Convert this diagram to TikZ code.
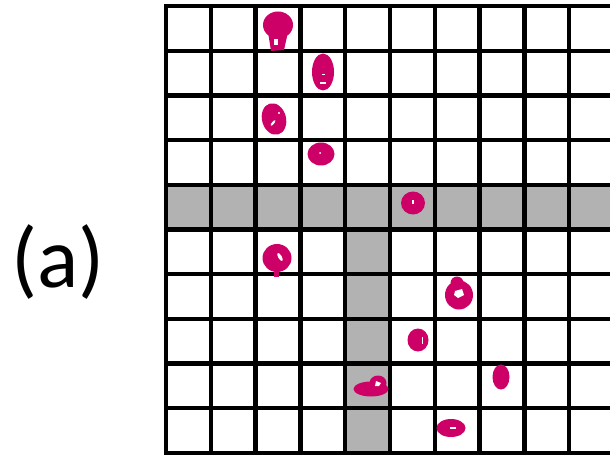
\documentclass[tikz,border=0pt]{standalone}
\usepackage{fontspec}
\newfontfamily\labelfont{Carlito}
\definecolor{blob}{HTML}{CC0066}
\tikzset{
  gridline/.style={line width=4.3pt, black},
  shade/.style={fill=black!30},
  blobfill/.style={fill=blob, draw=none},
  hole/.style={fill=white, draw=none},
}
\begin{document}
\begin{tikzpicture}[x=1pt,y=-1pt]
\useasboundingbox (0,0) rectangle (610,457);
\fill[white] (0,0) rectangle (610,457);
\begin{scope}
\clip (0,0) rectangle (610,457);
% shaded row and column
\fill[shade] (166,185) rectangle (620,230);
\fill[shade] (346,230) rectangle (391,453);
% grid
\foreach \i in {0,...,10} {
  \draw[gridline] ({166+44.8*\i},6) -- ({166+44.8*\i},453);
}
\foreach \j in {0,...,10} {
  \draw[gridline] (164,{6+44.7*\j}) -- (620,{6+44.7*\j});
}
% blobs
% 1
\fill[blobfill] (278,25) ellipse[x radius=15, y radius=13.5];
\fill[blobfill] (268,32) -- (288,32) -- (284,50) -- (271,51) -- cycle;
\fill[hole] (274,39) rectangle (278,45);
% 2
\fill[blobfill] (323,72) ellipse[x radius=11, y radius=18.5];
\fill[hole] (322,74) rectangle (324.5,75.5);
\fill[hole] (320,82) rectangle (326,84);
% 3
\fill[blobfill, rotate around={15:(274,119)}] (274,119) ellipse[x radius=12, y radius=16];
\fill[hole, rotate around={-40:(273,123)}] (273,123) ellipse[x radius=1.2, y radius=3.5];
\fill[hole] (279,113) circle[radius=1.2];
% 4
\fill[blobfill] (321,154) ellipse[x radius=13.5, y radius=11.5];
\fill[hole] (320,153) circle[radius=1];
% 5
\fill[blobfill] (413,203) ellipse[x radius=12, y radius=11.5];
\fill[hole] (412.3,200) rectangle (413.5,204);
% 6
\fill[blobfill] (277,258) ellipse[x radius=14.5, y radius=14];
\fill[blobfill] (274,268) rectangle (279,277);
\fill[hole, rotate around={30:(280,257)}] (280,257) ellipse[x radius=1.8, y radius=4.5];
% 7
\fill[blobfill] (459,295) ellipse[x radius=14, y radius=14.5];
\fill[blobfill] (457,283) circle[radius=6.5];
\fill[hole] (455,291) -- (462,289) -- (464,295) -- (458,298) -- (454,295) -- cycle;
% 8
\fill[blobfill] (418,340) ellipse[x radius=10.5, y radius=11.5];
\fill[hole] (421.5,337) rectangle (423,344);
% 9
\fill[blobfill] (371,389) ellipse[x radius=17.5, y radius=7.5];
\fill[blobfill] (378,383) ellipse[x radius=8.5, y radius=7.5];
\fill[hole] (376,381) -- (381,383) -- (379,386) -- (375,386) -- cycle;
% 10
\fill[blobfill] (451,428) ellipse[x radius=14.5, y radius=9];
\fill[hole] (450,427) rectangle (456,429);
% 11
\fill[blobfill] (501,377) ellipse[x radius=8.5, y radius=12.5];
\end{scope}
% label
\node[font=\labelfont\fontsize{86}{86}\selectfont, inner sep=0pt] (lbl) at (58,262) {(a)};
\end{tikzpicture}
\end{document}
